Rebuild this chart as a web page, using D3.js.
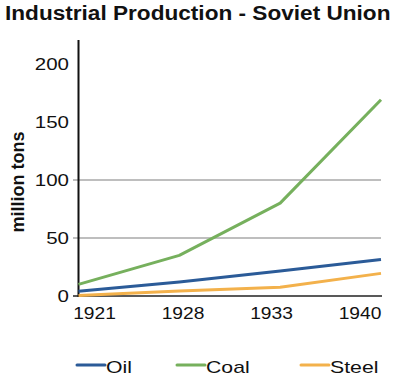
<!DOCTYPE html>
<html><head><meta charset="utf-8">
<script src="https://cdn.jsdelivr.net/npm/d3@7"></script>
<style>body{margin:0;background:#fff}svg{display:block;font-family:"Liberation Sans",Arial,sans-serif}</style>
</head><body><svg id="c" width="400" height="380"></svg>
<script>
const years = ["1921","1928","1933","1940"];
const oil   = [4, 12, 21.5, 31.5];
const coal  = [10, 35, 80, 169];
const steel = [0.5, 4.3, 7.5, 19.5];
const seriesNames = ["Oil","Coal","Steel"];
const seriesColors = ["#2b5b98","#76b05d","#f3b14b"];
const yTicks = [0,50,100,150,200];
const gridTicks = [50,100];

const svg = d3.select("#c");
const x = d3.scalePoint().domain(years).range([78.5, 381]);
const xl = d3.scalePoint().domain(years).range([94.5, 360]);
const y = d3.scaleLinear().domain([0, 220.5]).range([296, 40]);

function stretch(sel, f){
  sel.each(function(){
    const t = d3.select(this);
    const w = this.getComputedTextLength();
    t.attr("textLength", w*f).attr("lengthAdjust","spacingAndGlyphs");
  });
}

// title
const title = svg.append("text").attr("x",5).attr("y",20)
  .attr("font-size",20).attr("font-weight","bold").attr("fill","#111")
  .text("Industrial Production - Soviet Union");
stretch(title, 1.13);

// gridlines
svg.append("g").selectAll("line").data(gridTicks).join("line")
  .attr("x1",73).attr("x2",381).attr("y1",d=>y(d)).attr("y2",d=>y(d))
  .attr("stroke","#a8a8a8").attr("stroke-width",1.5);

// y tick labels
svg.append("g").selectAll("text").data(yTicks).join("text")
  .attr("y",d=>y(d)).attr("dy","0.36em").attr("font-size",16).attr("fill","#111")
  .text(d=>d)
  .each(function(){
    const w = this.getComputedTextLength()*1.28;
    d3.select(this).attr("textLength",w).attr("lengthAdjust","spacingAndGlyphs").attr("x",69-w);
  });

// x tick labels
svg.append("g").selectAll("text").data(years).join("text")
  .attr("y",318.5).attr("font-size",16).attr("fill","#111")
  .text(d=>d)
  .each(function(d){
    const w = this.getComputedTextLength()*1.2;
    d3.select(this).attr("textLength",w).attr("lengthAdjust","spacingAndGlyphs").attr("x",xl(d)-w/2);
  });

// y label
const yl = svg.append("text").attr("transform","translate(24,182) rotate(-90)")
  .attr("text-anchor","middle").attr("font-size",18).attr("font-weight","bold").attr("fill","#111")
  .text("million tons");

// axes lines
svg.append("line").attr("x1",73).attr("x2",382).attr("y1",y(0)).attr("y2",y(0))
  .attr("stroke","#222").attr("stroke-width",1.5);
svg.append("line").attr("x1",78.5).attr("x2",78.5).attr("y1",40).attr("y2",y(0)+1)
  .attr("stroke","#111").attr("stroke-width",2);

// series
const data = [oil, coal, steel];
const line = d3.line().x((d,i)=>x(years[i])).y(d=>y(d));
svg.append("g").selectAll("path").data([steel, oil, coal]).join("path")
  .attr("d",line).attr("fill","none")
  .attr("stroke",d=>seriesColors[data.indexOf(d)]).attr("stroke-width",3)
  .attr("stroke-linejoin","round");

// legend
const legX = [77, 177, 301];
const lg = svg.append("g").selectAll("g").data(seriesNames).join("g")
  .attr("transform",(d,i)=>`translate(${legX[i]},365)`);
lg.append("line").attr("x1",0).attr("x2",28).attr("y1",0).attr("y2",0)
  .attr("stroke",(d,i)=>seriesColors[i]).attr("stroke-width",3).attr("stroke-linecap","round");
lg.append("text").attr("x",29).attr("y",7.5).attr("font-size",17).attr("fill","#111")
  .text(d=>d);
stretch(lg.selectAll("text"), 1.25);
</script></body></html>
